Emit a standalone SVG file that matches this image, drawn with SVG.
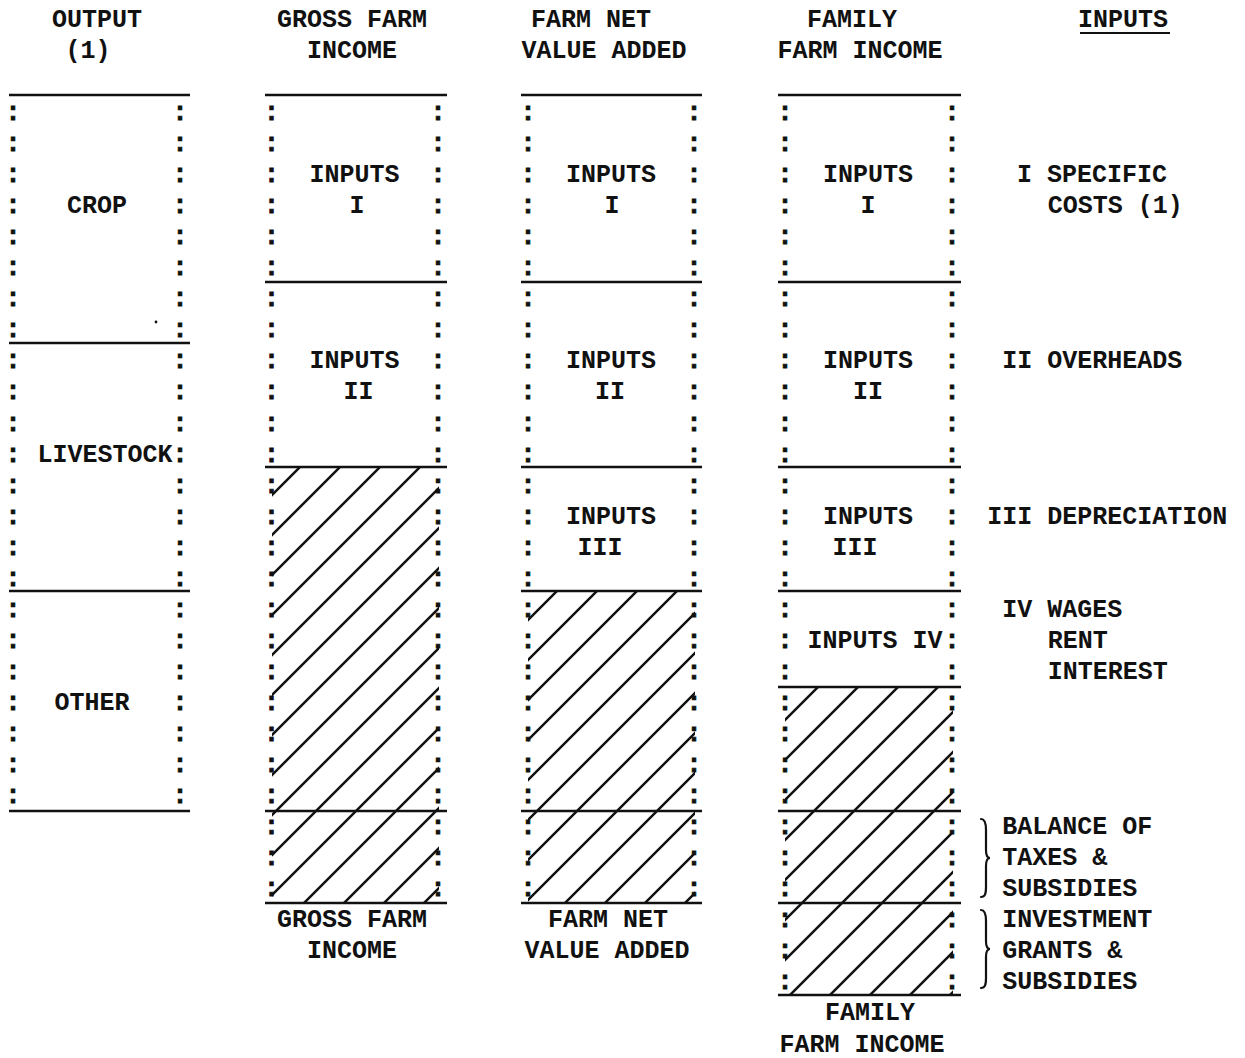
<svg xmlns="http://www.w3.org/2000/svg" width="1245" height="1058" viewBox="0 0 1245 1058">
<style>
  .t { font-family: "Liberation Mono", "DejaVu Sans Mono", monospace; font-weight: bold; font-size: 25px; fill: #111; }
  .m { text-anchor: middle; }
  .k { stroke: #111; stroke-width: 0.9; }
  .rule { stroke: #111; stroke-width: 2.5; fill: none; }
  .brace { stroke: #111; stroke-width: 2.2; fill: none; stroke-linecap: round; }
</style>
<defs>
  <pattern id="h2" patternUnits="userSpaceOnUse" x="7" y="0" width="40" height="40">
    <path d="M-5,5 L5,-5 M0,40 L40,0 M35,45 L45,35" stroke="#111" stroke-width="2.5"/>
  </pattern>
  <pattern id="h3" patternUnits="userSpaceOnUse" x="28" y="0" width="40" height="40">
    <path d="M-5,5 L5,-5 M0,40 L40,0 M35,45 L45,35" stroke="#111" stroke-width="2.5"/>
  </pattern>
  <pattern id="h4" patternUnits="userSpaceOnUse" x="25" y="0" width="40" height="40">
    <path d="M-5,5 L5,-5 M0,40 L40,0 M35,45 L45,35" stroke="#111" stroke-width="2.5"/>
  </pattern>
</defs>
<rect width="1245" height="1058" fill="#fff"/>

<g id="col-output">
  <text class="t m" x="97" y="26.85">OUTPUT</text>
  <text class="t m" x="88" y="57.9">(1)</text>
  <line class="rule" x1="9" y1="95" x2="190" y2="95"/>
  <line class="rule" x1="9" y1="343" x2="190" y2="343"/>
  <line class="rule" x1="9" y1="591" x2="190" y2="591"/>
  <line class="rule" x1="9" y1="811" x2="190" y2="811"/>
  <text class="t m k" x="13 13 13 13 13 13 13 13 13 13 13 13 13 13 13 13 13 13 13 13 13 13 13" y="120 151.05 182.1 213.15 244.2 275.25 306.3 337.35 368.4 399.45 430.5 461.55 492.6 523.65 554.7 585.75 616.8 647.85 678.9 709.95 741 772.05 803.1">:::::::::::::::::::::::</text>
  <text class="t m k" x="180 180 180 180 180 180 180 180 180 180 180 180 180 180 180 180 180 180 180 180 180 180 180" y="120 151.05 182.1 213.15 244.2 275.25 306.3 337.35 368.4 399.45 430.5 461.55 492.6 523.65 554.7 585.75 616.8 647.85 678.9 709.95 741 772.05 803.1">:::::::::::::::::::::::</text>
  <text class="t m" x="97" y="213.15">CROP</text>
  <text class="t m" x="105" y="461.55">LIVESTOCK</text>
  <text class="t m" x="92" y="709.95">OTHER</text>
  <circle cx="156" cy="322" r="1.4" fill="#111"/>
</g>

<g id="col-gross-farm-income">
  <text class="t m" x="352" y="26.85">GROSS FARM</text>
  <text class="t m" x="352" y="57.9">INCOME</text>
  <rect x="272" y="467" width="167" height="436" fill="url(#h2)"/>
  <line class="rule" x1="265" y1="95" x2="447" y2="95"/>
  <line class="rule" x1="265" y1="282" x2="447" y2="282"/>
  <line class="rule" x1="265" y1="467" x2="447" y2="467"/>
  <line class="rule" x1="265" y1="811" x2="447" y2="811"/>
  <line class="rule" x1="265" y1="903" x2="447" y2="903"/>
  <text class="t m k" x="271.5 271.5 271.5 271.5 271.5 271.5 271.5 271.5 271.5 271.5 271.5 271.5 271.5 271.5 271.5 271.5 271.5 271.5 271.5 271.5 271.5 271.5 271.5 271.5 271.5 271.5" y="120 151.05 182.1 213.15 244.2 275.25 306.3 337.35 368.4 399.45 430.5 461.55 492.6 523.65 554.7 585.75 616.8 647.85 678.9 709.95 741 772.05 803.1 834.15 865.2 896.25">::::::::::::::::::::::::::</text>
  <text class="t m k" x="438 438 438 438 438 438 438 438 438 438 438 438 438 438 438 438 438 438 438 438 438 438 438 438 438 438" y="120 151.05 182.1 213.15 244.2 275.25 306.3 337.35 368.4 399.45 430.5 461.55 492.6 523.65 554.7 585.75 616.8 647.85 678.9 709.95 741 772.05 803.1 834.15 865.2 896.25">::::::::::::::::::::::::::</text>
  <text class="t m" x="354.5" y="182.1">INPUTS</text>
  <text class="t m" x="357" y="213.15">I</text>
  <text class="t m" x="354.5" y="368.4">INPUTS</text>
  <text class="t m" x="358.5" y="399.45">II</text>
  <text class="t m" x="352" y="927.3">GROSS FARM</text>
  <text class="t m" x="352" y="958.35">INCOME</text>
</g>

<g id="col-farm-net-value-added">
  <text class="t m" x="591" y="26.85">FARM NET</text>
  <text class="t m" x="604" y="57.9">VALUE ADDED</text>
  <rect x="528" y="591" width="167" height="312" fill="url(#h3)"/>
  <line class="rule" x1="521" y1="95" x2="702" y2="95"/>
  <line class="rule" x1="521" y1="282" x2="702" y2="282"/>
  <line class="rule" x1="521" y1="467" x2="702" y2="467"/>
  <line class="rule" x1="521" y1="591" x2="702" y2="591"/>
  <line class="rule" x1="521" y1="811" x2="702" y2="811"/>
  <line class="rule" x1="521" y1="903" x2="702" y2="903"/>
  <text class="t m k" x="528 528 528 528 528 528 528 528 528 528 528 528 528 528 528 528 528 528 528 528 528 528 528 528 528 528" y="120 151.05 182.1 213.15 244.2 275.25 306.3 337.35 368.4 399.45 430.5 461.55 492.6 523.65 554.7 585.75 616.8 647.85 678.9 709.95 741 772.05 803.1 834.15 865.2 896.25">::::::::::::::::::::::::::</text>
  <text class="t m k" x="694 694 694 694 694 694 694 694 694 694 694 694 694 694 694 694 694 694 694 694 694 694 694 694 694 694" y="120 151.05 182.1 213.15 244.2 275.25 306.3 337.35 368.4 399.45 430.5 461.55 492.6 523.65 554.7 585.75 616.8 647.85 678.9 709.95 741 772.05 803.1 834.15 865.2 896.25">::::::::::::::::::::::::::</text>
  <text class="t m" x="611" y="182.1">INPUTS</text>
  <text class="t m" x="612" y="213.15">I</text>
  <text class="t m" x="611" y="368.4">INPUTS</text>
  <text class="t m" x="610" y="399.45">II</text>
  <text class="t m" x="611" y="523.65">INPUTS</text>
  <text class="t m" x="600" y="554.7">III</text>
  <text class="t m" x="608" y="927.3">FARM NET</text>
  <text class="t m" x="607" y="958.35">VALUE ADDED</text>
</g>

<g id="col-family-farm-income">
  <text class="t m" x="852" y="26.85">FAMILY</text>
  <text class="t m" x="860" y="57.9">FARM INCOME</text>
  <rect x="785" y="687" width="168" height="308" fill="url(#h4)"/>
  <line class="rule" x1="778" y1="95" x2="961" y2="95"/>
  <line class="rule" x1="778" y1="282" x2="961" y2="282"/>
  <line class="rule" x1="778" y1="467" x2="961" y2="467"/>
  <line class="rule" x1="778" y1="591" x2="961" y2="591"/>
  <line class="rule" x1="778" y1="687" x2="961" y2="687"/>
  <line class="rule" x1="778" y1="811" x2="961" y2="811"/>
  <line class="rule" x1="778" y1="903" x2="961" y2="903"/>
  <line class="rule" x1="778" y1="995" x2="961" y2="995"/>
  <text class="t m k" x="785 785 785 785 785 785 785 785 785 785 785 785 785 785 785 785 785 785 785 785 785 785 785 785 785 785 785 785 785" y="120 151.05 182.1 213.15 244.2 275.25 306.3 337.35 368.4 399.45 430.5 461.55 492.6 523.65 554.7 585.75 616.8 647.85 678.9 709.95 741 772.05 803.1 834.15 865.2 896.25 927.3 958.35 989.4">:::::::::::::::::::::::::::::</text>
  <text class="t m k" x="952 952 952 952 952 952 952 952 952 952 952 952 952 952 952 952 952 952 952 952 952 952 952 952 952 952 952 952 952" y="120 151.05 182.1 213.15 244.2 275.25 306.3 337.35 368.4 399.45 430.5 461.55 492.6 523.65 554.7 585.75 616.8 647.85 678.9 709.95 741 772.05 803.1 834.15 865.2 896.25 927.3 958.35 989.4">:::::::::::::::::::::::::::::</text>
  <text class="t m" x="868" y="182.1">INPUTS</text>
  <text class="t m" x="868" y="213.15">I</text>
  <text class="t m" x="868" y="368.4">INPUTS</text>
  <text class="t m" x="868" y="399.45">II</text>
  <text class="t m" x="868" y="523.65">INPUTS</text>
  <text class="t m" x="855" y="554.7">III</text>
  <text class="t m" x="875" y="647.85">INPUTS IV</text>
  <text class="t m" x="870" y="1020.45">FAMILY</text>
  <text class="t m" x="862" y="1051.5">FARM INCOME</text>
</g>

<g id="col-inputs">
  <text class="t" x="1078" y="26.85">INPUTS</text>
  <line x1="1080" y1="33" x2="1170" y2="33" stroke="#111" stroke-width="1.8"/>
  <text class="t" x="1017" y="182.1">I SPECIFIC</text>
  <text class="t" x="1047.7" y="213.15">COSTS (1)</text>
  <text class="t" x="1002.3" y="368.4">II OVERHEADS</text>
  <text class="t" x="987.2" y="523.65">III DEPRECIATION</text>
  <text class="t" x="1002.3" y="616.8">IV WAGES</text>
  <text class="t" x="1047.7" y="647.85">RENT</text>
  <text class="t" x="1047.7" y="678.9">INTEREST</text>
  <path class="brace" d="M981,819 C985,819 986,823 986,830 L986,850 C986,855 987,858 990,858 C987,858 986,861 986,866 L986,887 C986,894 985,897 981,897"/>
  <text class="t" x="1002.3" y="834.15">BALANCE OF</text>
  <text class="t" x="1002.3" y="865.2">TAXES &amp;</text>
  <text class="t" x="1002.3" y="896.25">SUBSIDIES</text>
  <path class="brace" d="M981,910 C985,910 986,914 986,921 L986,941 C986,946 987,949 990,949 C987,949 986,952 986,957 L986,978 C986,985 985,988 981,988"/>
  <text class="t" x="1002.3" y="927.3">INVESTMENT</text>
  <text class="t" x="1002.3" y="958.35">GRANTS &amp;</text>
  <text class="t" x="1002.3" y="989.4">SUBSIDIES</text>
</g>

<g id="connectors"></g>
</svg>
